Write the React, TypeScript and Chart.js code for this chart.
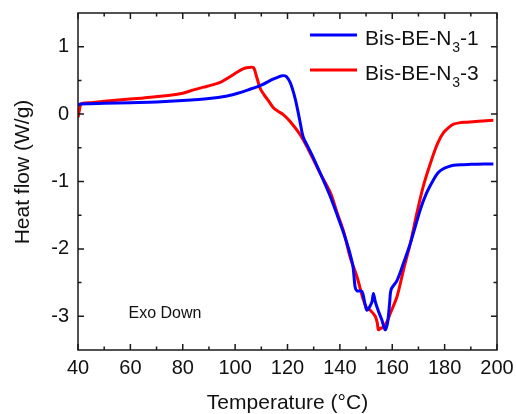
import React, { useEffect, useRef } from "react";
import { Chart, registerables } from "chart.js";

Chart.register(...registerables);

const FONT = "'Liberation Sans', Arial, Helvetica, sans-serif";

const xTicks = [40, 60, 80, 100, 120, 140, 160, 180, 200];
const xMinorTicks = [50, 70, 90, 110, 130, 150, 170, 190];
const yTicks = [-3, -2, -1, 0, 1];
const yMinorTicks = [-2.5, -1.5, -0.5, 0.5];

const seriesNames = ["Bis-BE-N|3|-1", "Bis-BE-N|3|-3"];

const blueT = [40, 41, 45, 50, 60, 70, 80, 90, 97, 101, 105, 110, 114, 116.5, 118, 119.5, 121, 122, 123, 124, 125, 126, 128, 130, 133, 136, 139, 141.5, 143.5, 145, 145.8, 146.5, 148.4, 149.5, 150.3, 151.5, 152.3, 152.8, 153.5, 154.7, 156, 157.3, 158.2, 159, 159.6, 161.8, 164.3, 166.9, 170.7, 173, 175.8, 177.5, 179.5, 181.5, 183.4, 186, 190, 195, 198.6];
const blueH = [0.13, 0.15, 0.155, 0.16, 0.17, 0.18, 0.2, 0.23, 0.27, 0.31, 0.36, 0.43, 0.51, 0.55, 0.57, 0.56, 0.47, 0.36, 0.22, 0.04, -0.16, -0.34, -0.5, -0.66, -0.92, -1.19, -1.5, -1.77, -2.02, -2.26, -2.56, -2.62, -2.63, -2.8, -2.91, -2.85, -2.78, -2.66, -2.78, -2.92, -3.05, -3.2, -3.1, -2.8, -2.6, -2.47, -2.21, -1.92, -1.42, -1.18, -0.97, -0.87, -0.81, -0.78, -0.76, -0.75, -0.745, -0.74, -0.74];

const redT = [40, 40.5, 41, 42, 45, 50, 58.7, 65, 75.2, 80, 84.1, 88, 91, 94.3, 97, 100.7, 103, 105, 107, 108, 109.6, 111, 112.5, 114.7, 116.5, 118.5, 121, 124.9, 128.7, 132.5, 136.4, 139, 141.5, 143.9, 146.5, 149, 150.3, 151.6, 153.5, 154.3, 154.7, 155.5, 156.6, 158, 159.2, 161.8, 164.3, 166.9, 169.4, 172, 175.7, 177.5, 179.5, 181.5, 183.4, 185.5, 188.5, 193, 198.6];
const redH = [-0.05, 0.05, 0.14, 0.16, 0.17, 0.19, 0.22, 0.24, 0.28, 0.31, 0.36, 0.4, 0.43, 0.47, 0.53, 0.62, 0.67, 0.69, 0.69, 0.58, 0.38, 0.29, 0.21, 0.09, 0.04, -0.01, -0.11, -0.31, -0.58, -0.88, -1.17, -1.47, -1.75, -2.12, -2.41, -2.76, -2.88, -2.91, -3.0, -3.1, -3.2, -3.18, -3.16, -3.08, -2.96, -2.71, -2.31, -1.92, -1.47, -1.05, -0.6, -0.42, -0.28, -0.2, -0.15, -0.13, -0.12, -0.105, -0.09];

const seriesColors = ["#0000FF", "#FF0000"];
const annotationText = "Exo Down";
const annotationPos = { x: 59.3, y: -2.96 };
const xTitle = "Temperature (°C)";
const yTitle = "Heat flow (W/g)";

const decorPlugin = {
  id: "decor",
  afterDraw(chart: any) {
    const ctx = chart.ctx;
    const { left, right, top, bottom } = chart.chartArea;
    const xs = chart.scales.x;
    const ys = chart.scales.y;
    ctx.save();
    ctx.strokeStyle = "#1a1a1a";
    ctx.lineWidth = 1.5;
    ctx.strokeRect(left, top, right - left, bottom - top);
    const major = 6;
    const minor = 3.5;
    ctx.beginPath();
    xTicks.forEach((v) => {
      const px = xs.getPixelForValue(v);
      ctx.moveTo(px, bottom); ctx.lineTo(px, bottom - major);
      ctx.moveTo(px, top); ctx.lineTo(px, top + major);
    });
    xMinorTicks.forEach((v) => {
      const px = xs.getPixelForValue(v);
      ctx.moveTo(px, bottom); ctx.lineTo(px, bottom - minor);
      ctx.moveTo(px, top); ctx.lineTo(px, top + minor);
    });
    yTicks.forEach((v) => {
      const py = ys.getPixelForValue(v);
      ctx.moveTo(left, py); ctx.lineTo(left + major, py);
      ctx.moveTo(right, py); ctx.lineTo(right - major, py);
    });
    yMinorTicks.forEach((v) => {
      const py = ys.getPixelForValue(v);
      ctx.moveTo(left, py); ctx.lineTo(left + minor, py);
      ctx.moveTo(right, py); ctx.lineTo(right - minor, py);
    });
    ctx.stroke();

    // axis titles
    ctx.fillStyle = "#111";
    ctx.font = `21px ${FONT}`;
    ctx.textAlign = "center";
    ctx.textBaseline = "middle";
    ctx.fillText(xTitle, (left + right) / 2, 403);
    ctx.save();
    ctx.translate(23, 172);
    ctx.rotate(-Math.PI / 2);
    ctx.fillText(yTitle, 0, 0);
    ctx.restore();

    // annotation
    ctx.font = `16px ${FONT}`;
    ctx.textAlign = "left";
    ctx.textBaseline = "middle";
    ctx.fillText(annotationText, xs.getPixelForValue(annotationPos.x), ys.getPixelForValue(annotationPos.y));

    // legend
    const rows = [35, 70];
    seriesNames.forEach((name, i) => {
      const y = rows[i];
      ctx.strokeStyle = seriesColors[i];
      ctx.lineWidth = 3;
      ctx.beginPath();
      ctx.moveTo(right - 187, y);
      ctx.lineTo(right - 140, y);
      ctx.stroke();
      const [a, sub, b] = name.split("|");
      ctx.fillStyle = "#111";
      ctx.textBaseline = "alphabetic";
      ctx.textAlign = "left";
      let x = right - 132;
      ctx.font = `21px ${FONT}`;
      ctx.fillText(a, x, y + 10);
      x += ctx.measureText(a).width + 1;
      ctx.font = `14px ${FONT}`;
      ctx.fillText(sub, x, y + 17);
      x += ctx.measureText(sub).width;
      ctx.font = `21px ${FONT}`;
      ctx.fillText(b, x, y + 10);
    });
    ctx.restore();
  },
};

export default function App() {
  const ref = useRef<HTMLCanvasElement | null>(null);
  useEffect(() => {
    if (!ref.current) return;
    const chart = new Chart(ref.current, {
      type: "line",
      data: {
        datasets: [
          {
            label: "Bis-BE-N3-1",
            data: blueT.map((t, i) => ({ x: t, y: blueH[i] })),
            borderColor: seriesColors[0],
            borderWidth: 3,
            pointRadius: 0,
            tension: 0.3,
            fill: false,
          },
          {
            label: "Bis-BE-N3-3",
            data: redT.map((t, i) => ({ x: t, y: redH[i] })),
            borderColor: seriesColors[1],
            borderWidth: 3,
            pointRadius: 0,
            tension: 0.3,
            fill: false,
          },
        ],
      },
      options: {
        responsive: false,
        animation: false,
        devicePixelRatio: 1,
        layout: { padding: { top: 13, right: 19, left: 0, bottom: 0 } },
        plugins: { legend: { display: false }, tooltip: { enabled: false } },
        scales: {
          x: {
            type: "linear",
            min: 40,
            max: 200,
            grid: { display: false, drawTicks: false },
            border: { display: false },
            afterBuildTicks: (s: any) => { s.ticks = xTicks.map((v) => ({ value: v })); },
            afterFit: (s: any) => {
              s.height = 64;
              s.paddingLeft = 0; s.paddingRight = 0; s.paddingTop = 0; s.paddingBottom = 0;
            },
            ticks: {
              padding: 6,
              color: "#111",
              font: { family: FONT, size: 20 },
              maxRotation: 0,
              autoSkip: false,
              callback: (v: any) => String(v),
            },
          },
          y: {
            type: "linear",
            min: -3.5,
            max: 1.5,
            grid: { display: false, drawTicks: false },
            border: { display: false },
            afterBuildTicks: (s: any) => { s.ticks = yTicks.map((v) => ({ value: v })); },
            afterFit: (s: any) => {
              s.width = 78;
              s.paddingLeft = 0; s.paddingRight = 0; s.paddingTop = 0; s.paddingBottom = 0;
            },
            ticks: {
              padding: 9,
              color: "#111",
              font: { family: FONT, size: 20 },
              autoSkip: false,
              callback: (v: any) => String(v),
            },
          },
        },
      },
      plugins: [decorPlugin],
    });
    return () => chart.destroy();
  }, []);
  return (
    <div style={{ position: "fixed", left: 0, top: 0, width: 516, height: 414, background: "#fff" }}>
      <canvas ref={ref} width={516} height={414} style={{ width: 516, height: 414, display: "block" }} />
    </div>
  );
}
